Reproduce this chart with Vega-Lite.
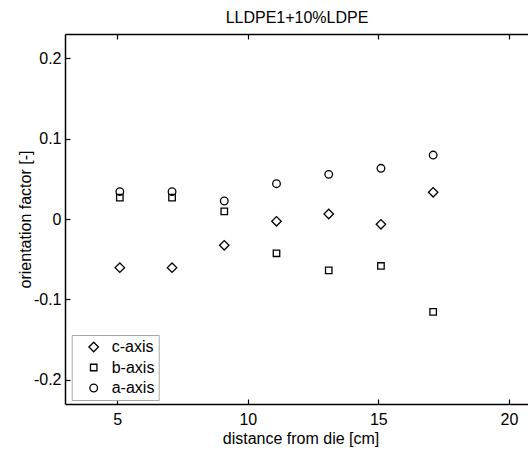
{
  "$schema": "https://vega.github.io/schema/vega-lite/v6.json",
  "width": 464,
  "height": 370,
  "autosize": "none",
  "padding": {"left": 65, "top": 34, "right": 0, "bottom": 46},
  "background": "white",
  "title": {"text": "LLDPE1+10%LDPE", "fontSize": 16, "font": "Liberation Sans", "fontWeight": "normal", "color": "black", "baseline": "alphabetic", "offset": 12, "dy": 18, "anchor": "middle"},
  "config": {
    "view": {"stroke": null},
    "axis": {"grid": false, "domainColor": "black", "domainWidth": 1.5, "tickColor": "black", "tickWidth": 1.2, "tickSize": -5, "labelFont": "Liberation Sans", "labelFontSize": 16, "labelColor": "black", "titleFont": "Liberation Sans", "titleFontSize": 16, "titleFontWeight": "normal", "titleColor": "black"}
  },
  "data": {"values": [
    {"x": 5.1, "y": 0.034, "series": "a-axis"},
    {"x": 7.1, "y": 0.034, "series": "a-axis"},
    {"x": 9.1, "y": 0.0224, "series": "a-axis"},
    {"x": 11.1, "y": 0.0439, "series": "a-axis"},
    {"x": 13.1, "y": 0.0555, "series": "a-axis"},
    {"x": 15.1, "y": 0.063, "series": "a-axis"},
    {"x": 17.1, "y": 0.0795, "series": "a-axis"},
    {"x": 5.1, "y": 0.0265, "series": "b-axis"},
    {"x": 7.1, "y": 0.0265, "series": "b-axis"},
    {"x": 9.1, "y": 0.0095, "series": "b-axis"},
    {"x": 11.1, "y": -0.0426, "series": "b-axis"},
    {"x": 13.1, "y": -0.0638, "series": "b-axis"},
    {"x": 15.1, "y": -0.0584, "series": "b-axis"},
    {"x": 17.1, "y": -0.1155, "series": "b-axis"},
    {"x": 5.1, "y": -0.0605, "series": "c-axis"},
    {"x": 7.1, "y": -0.0605, "series": "c-axis"},
    {"x": 9.1, "y": -0.0327, "series": "c-axis"},
    {"x": 11.1, "y": -0.0029, "series": "c-axis"},
    {"x": 13.1, "y": 0.0062, "series": "c-axis"},
    {"x": 15.1, "y": -0.0066, "series": "c-axis"},
    {"x": 17.1, "y": 0.0332, "series": "c-axis"}
  ]},
  "layer": [
    {
      "mark": {"type": "point", "filled": false, "color": "black", "strokeWidth": 1.3, "opacity": 1},
      "encoding": {
        "x": {"field": "x", "type": "quantitative", "scale": {"domain": [3, 20.77], "nice": false, "zero": false}, "axis": null},
        "y": {"field": "y", "type": "quantitative", "scale": {"domain": [-0.23, 0.23], "nice": false, "zero": false},
              "axis": {"values": [-0.2, -0.1, 0, 0.1, 0.2], "labelPadding": 9, "title": "orientation factor [-]", "titlePadding": 0,
                       "labelExpr": "datum.value == 0 ? '0' : replace(format(datum.value, '.1f'), '−', '-')"}},
        "shape": {"field": "series", "type": "nominal",
                  "scale": {"domain": ["c-axis", "b-axis", "a-axis"], "range": ["diamond", "square", "circle"]},
                  "legend": {"orient": "none", "legendX": 6.7, "legendY": 301, "title": null, "strokeColor": "#a8a8a8", "fillColor": "white", "padding": 4, "labelFont": "Liberation Sans", "labelFontSize": 16, "labelColor": "black", "symbolOffset": 10, "labelOffset": 10, "rowPadding": 4.5, "symbolStrokeColor": "black", "symbolStrokeWidth": 1.3}},
        "size": {"field": "series", "type": "nominal",
                 "scale": {"type": "ordinal", "domain": ["c-axis", "b-axis", "a-axis"], "range": [90, 42, 58]},
                 "legend": {"orient": "none", "legendX": 6.7, "legendY": 301, "title": null, "strokeColor": "#a8a8a8", "fillColor": "white", "padding": 4, "labelFont": "Liberation Sans", "labelFontSize": 16, "labelColor": "black", "symbolOffset": 10, "labelOffset": 10, "rowPadding": 4.5, "symbolStrokeColor": "black", "symbolStrokeWidth": 1.3}}
      }
    },
    {
      "mark": {"type": "point", "opacity": 0},
      "encoding": {
        "x": {"field": "x", "type": "quantitative", "scale": {"domain": [3, 20.77], "nice": false, "zero": false},
              "axis": {"orient": "top", "values": [5, 10, 15, 20], "labels": false, "title": null}}
      }
    },
    {
      "mark": {"type": "point", "opacity": 0},
      "encoding": {
        "x": {"field": "x", "type": "quantitative", "scale": {"domain": [3, 20.77], "nice": false, "zero": false},
              "axis": {"orient": "bottom", "values": [5, 10, 15, 20], "labelPadding": 12, "title": "distance from die [cm]", "titleX": 235.5, "titlePadding": 3}}
      }
    }
  ],
  "resolve": {"axis": {"x": "independent"}}
}
